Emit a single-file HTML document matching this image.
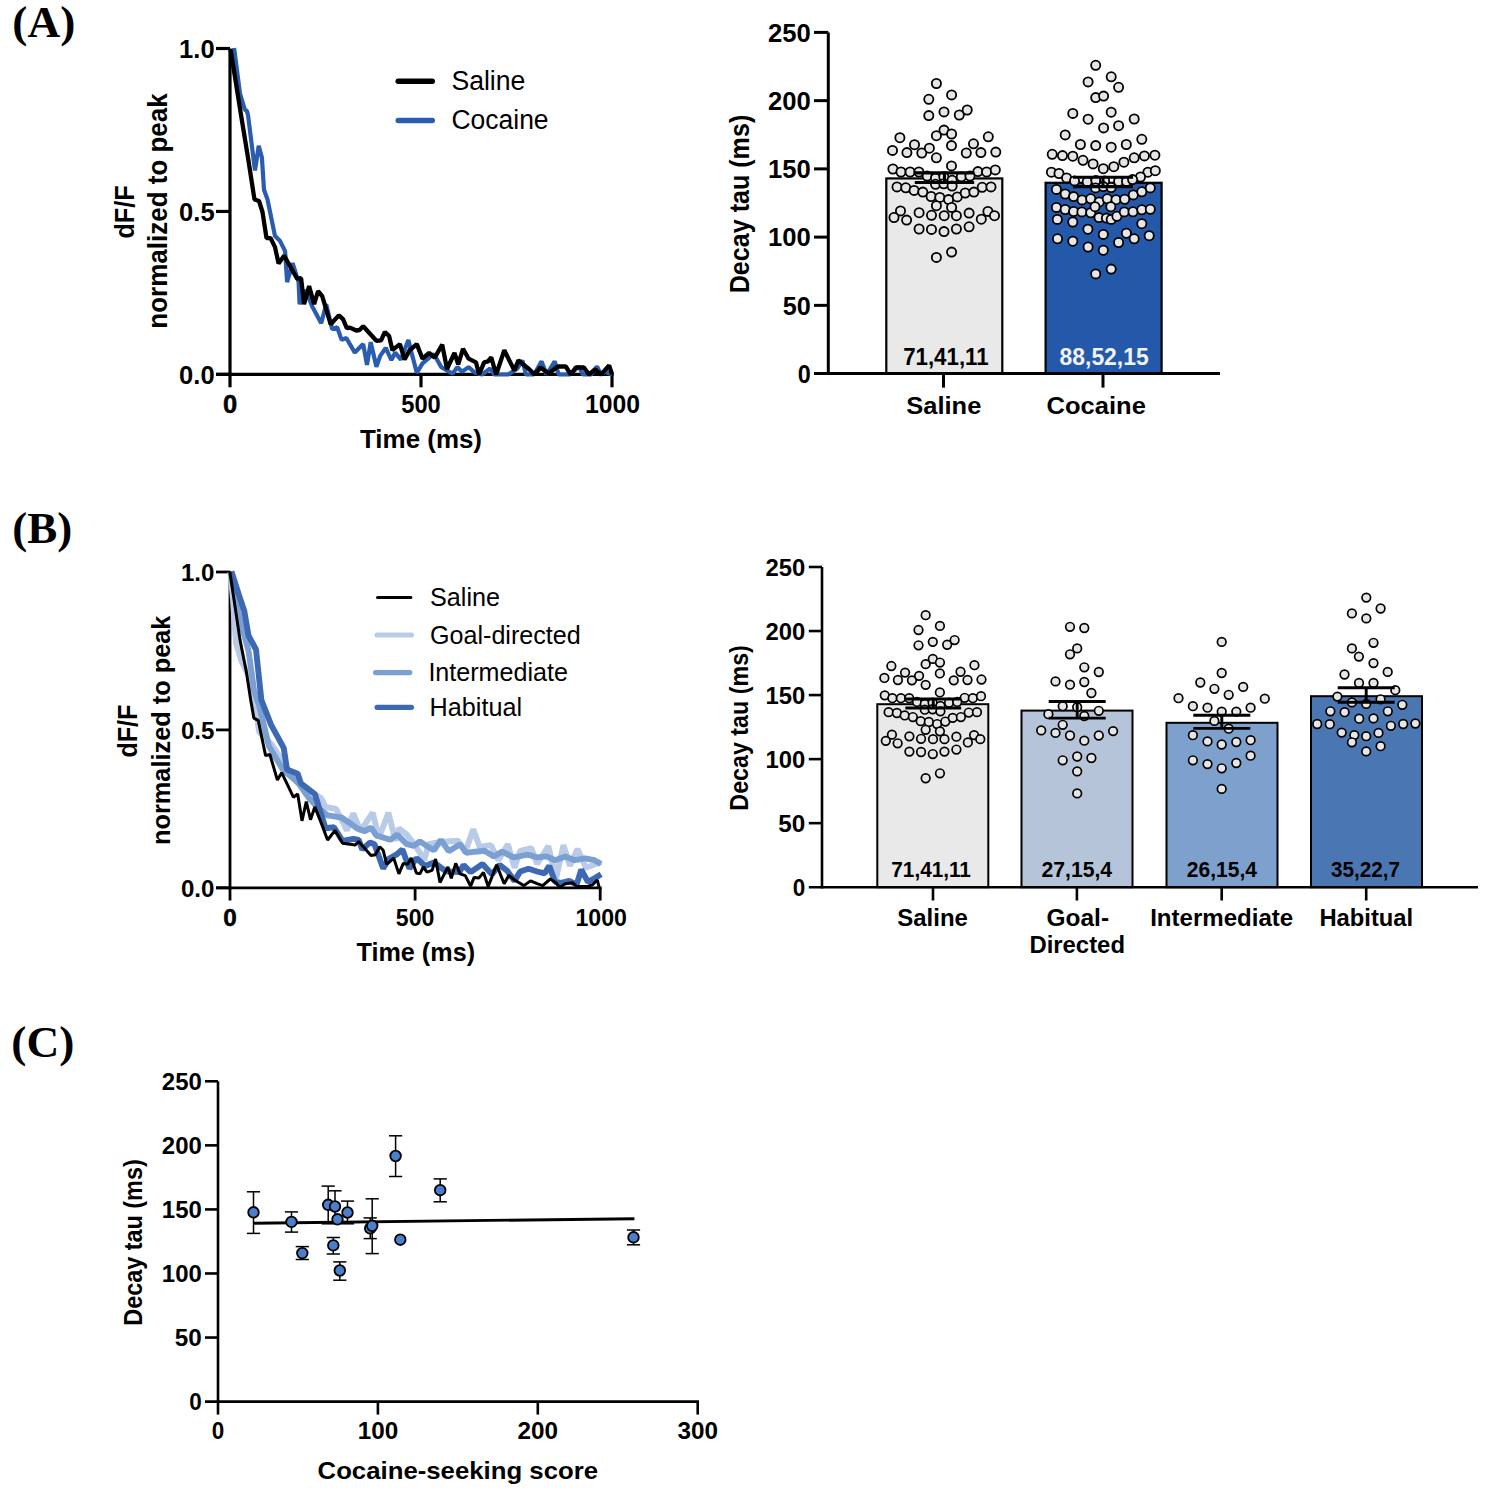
<!DOCTYPE html>
<html><head><meta charset="utf-8"><title>Figure</title>
<style>html,body{margin:0;padding:0;background:#fff;}svg{display:block;}</style>
</head><body>
<svg width="1488" height="1497" viewBox="0 0 1488 1497">
<rect width="1488" height="1497" fill="#fff"/>
<text transform="translate(12.3,37.3)" font-family='"Liberation Serif", serif' font-size="45" font-weight="bold" fill="#000" text-anchor="start" textLength="63" lengthAdjust="spacingAndGlyphs">(A)</text>
<text transform="translate(12.3,542.5)" font-family='"Liberation Serif", serif' font-size="45" font-weight="bold" fill="#000" text-anchor="start" textLength="60" lengthAdjust="spacingAndGlyphs">(B)</text>
<text transform="translate(11.3,1057)" font-family='"Liberation Serif", serif' font-size="45" font-weight="bold" fill="#000" text-anchor="start" textLength="63" lengthAdjust="spacingAndGlyphs">(C)</text>
<line x1="230" y1="48.5" x2="230" y2="376" stroke="#000" stroke-width="3.2" stroke-linecap="butt"/>
<line x1="216" y1="374.4" x2="613.6" y2="374.4" stroke="#000" stroke-width="3.2" stroke-linecap="butt"/>
<line x1="216" y1="48.5" x2="230" y2="48.5" stroke="#000" stroke-width="3.2" stroke-linecap="butt"/>
<line x1="216" y1="211.45" x2="230" y2="211.45" stroke="#000" stroke-width="3.2" stroke-linecap="butt"/>
<line x1="216" y1="374.4" x2="230" y2="374.4" stroke="#000" stroke-width="3.2" stroke-linecap="butt"/>
<line x1="230" y1="374.4" x2="230" y2="387.3" stroke="#000" stroke-width="3.2" stroke-linecap="butt"/>
<line x1="421" y1="374.4" x2="421" y2="387.3" stroke="#000" stroke-width="3.2" stroke-linecap="butt"/>
<line x1="612" y1="374.4" x2="612" y2="387.3" stroke="#000" stroke-width="3.2" stroke-linecap="butt"/>
<text transform="translate(214.6,57.6)" font-family='"Liberation Sans", sans-serif' font-size="25.5" font-weight="bold" fill="#000" text-anchor="end" textLength="35.5" lengthAdjust="spacingAndGlyphs">1.0</text>
<text transform="translate(214.6,220.55)" font-family='"Liberation Sans", sans-serif' font-size="25.5" font-weight="bold" fill="#000" text-anchor="end" textLength="35.5" lengthAdjust="spacingAndGlyphs">0.5</text>
<text transform="translate(214.6,383.5)" font-family='"Liberation Sans", sans-serif' font-size="25.5" font-weight="bold" fill="#000" text-anchor="end" textLength="35.5" lengthAdjust="spacingAndGlyphs">0.0</text>
<text transform="translate(230,413.1)" font-family='"Liberation Sans", sans-serif' font-size="25.5" font-weight="bold" fill="#000" text-anchor="middle" stroke="#000" stroke-width="0.5">0</text>
<text transform="translate(421,413.1)" font-family='"Liberation Sans", sans-serif' font-size="25.5" font-weight="bold" fill="#000" text-anchor="middle" textLength="39.5" lengthAdjust="spacingAndGlyphs">500</text>
<text transform="translate(612.5,413.1)" font-family='"Liberation Sans", sans-serif' font-size="25.5" font-weight="bold" fill="#000" text-anchor="middle" textLength="55" lengthAdjust="spacingAndGlyphs">1000</text>
<text transform="translate(421,447.6)" font-family='"Liberation Sans", sans-serif' font-size="26.5" font-weight="bold" fill="#000" text-anchor="middle" textLength="122" lengthAdjust="spacingAndGlyphs">Time (ms)</text>
<text transform="translate(133.6,212) rotate(-90)" font-family='"Liberation Sans", sans-serif' font-size="27.5" font-weight="bold" fill="#000" text-anchor="middle" textLength="53" lengthAdjust="spacingAndGlyphs">dF/F</text>
<text transform="translate(166.9,211) rotate(-90)" font-family='"Liberation Sans", sans-serif' font-size="26.8" font-weight="bold" fill="#000" text-anchor="middle" textLength="235.4" lengthAdjust="spacingAndGlyphs">normalized to peak</text>
<line x1="398.2" y1="81.2" x2="432.3" y2="81.2" stroke="#000" stroke-width="5.4" stroke-linecap="round"/>
<line x1="398.2" y1="120.5" x2="432.3" y2="120.5" stroke="#2a5db0" stroke-width="5.4" stroke-linecap="round"/>
<text transform="translate(451.4,90.2)" font-family='"Liberation Sans", sans-serif' font-size="27" font-weight="normal" fill="#000" text-anchor="start" textLength="74" lengthAdjust="spacingAndGlyphs">Saline</text>
<text transform="translate(451.4,129.2)" font-family='"Liberation Sans", sans-serif' font-size="27" font-weight="normal" fill="#000" text-anchor="start" textLength="97.2" lengthAdjust="spacingAndGlyphs">Cocaine</text>
<polyline points="234.1,48 240,93.5 244.8,109.5 246.9,111 248,115 255,170.5 258.7,145.9 261.9,157.6 264,189.7 267.5,199.5 275,236.1 280.1,241.1 285.1,251.1 287.1,282.2 292.6,263.1 298.6,282.2 299.6,304.2 306,290 312.1,306.2 321.2,323.3 326.2,304.2 332.2,329.3 337.2,327.3 341.6,339.9 346.3,338 354.8,352.6 363.2,344.1 367,364.8 370.7,342.2 376.4,366.7 380.2,355.9 385.8,347.9 391.4,360.1 395.2,352.6 400.9,359.6 408.4,339.9 412.1,354.9 416.8,372.8 422.5,363.4 428.1,358.7 433.8,354 441.3,367.1 452.6,373.7 457.3,367.1 462,371.8 468.6,367.1 475,372.8 482,374.5 490.2,368.5 494,374.5 508.3,374.5 517.4,368.5 522.4,360.4 526,374.5 534,374.5 541.6,361.4 546.6,374.5 554.7,361.4 558.7,374.5 570,374.5 578.9,366.5 583,374.5 591,374.5 597,366.5 601,374.5 605.1,371.5 612,374.5" fill="none" stroke="#2a5db0" stroke-width="4.2" stroke-linejoin="bevel" stroke-linecap="butt"/>
<polyline points="230.5,49 241,114.9 248,157.6 253,190 254.5,199.5 259,201 262.5,212 266.5,238.1 270.6,238.1 275,247.1 278.6,263.6 284.1,255.6 297.1,278.7 301.1,278.2 304.1,304.2 309.1,286.2 314.1,304.2 318.1,291.2 322.2,296.2 330.7,324.3 338.8,315.4 343,319.2 346.8,328.1 350,327.6 356.2,330.5 359.5,330 363.2,326.2 376.4,340.8 381.1,340.3 384.9,331.9 389.1,336.1 392.4,350.2 399.9,344.1 404.6,359.6 409.3,350.7 416.8,344.1 422.5,358.7 429.1,353 434.7,357.7 442.2,344.6 447,369 454.5,353 458.2,364.3 463,348.8 468.6,358.7 476,362.4 479.1,374.5 484.1,362.4 488.1,361.4 491.2,357.4 496.2,374.5 504.3,350.3 514.4,370.5 518.4,360.4 529.5,369.5 534.5,374.5 540.6,367.5 548.6,373.5 557.7,366.5 565.8,366.5 570.8,374.5 575.8,367.5 583.9,367.5 589,374.5 595,369.5 601.1,374.5 609.1,365.4 612.1,374.5" fill="none" stroke="#000" stroke-width="4.3" stroke-linejoin="bevel" stroke-linecap="butt"/>
<rect x="886.3" y="178.43" width="116" height="195.17" fill="#e9e9e9" stroke="#000" stroke-width="2.2"/>
<rect x="1045.6" y="182.8" width="116" height="190.8" fill="#2459aa" stroke="#000" stroke-width="2.2"/>
<line x1="828.3" y1="32.4" x2="828.3" y2="375.1" stroke="#000" stroke-width="3" stroke-linecap="butt"/>
<line x1="814" y1="373.6" x2="1220" y2="373.6" stroke="#000" stroke-width="3" stroke-linecap="butt"/>
<line x1="814" y1="305.36" x2="828.3" y2="305.36" stroke="#000" stroke-width="3" stroke-linecap="butt"/>
<line x1="814" y1="237.12" x2="828.3" y2="237.12" stroke="#000" stroke-width="3" stroke-linecap="butt"/>
<line x1="814" y1="168.88" x2="828.3" y2="168.88" stroke="#000" stroke-width="3" stroke-linecap="butt"/>
<line x1="814" y1="100.64" x2="828.3" y2="100.64" stroke="#000" stroke-width="3" stroke-linecap="butt"/>
<line x1="814" y1="32.4" x2="828.3" y2="32.4" stroke="#000" stroke-width="3" stroke-linecap="butt"/>
<text transform="translate(810.8,382.8)" font-family='"Liberation Sans", sans-serif' font-size="26" font-weight="bold" fill="#000" text-anchor="end" textLength="13" lengthAdjust="spacingAndGlyphs">0</text>
<text transform="translate(810.8,314.56)" font-family='"Liberation Sans", sans-serif' font-size="26" font-weight="bold" fill="#000" text-anchor="end" textLength="28" lengthAdjust="spacingAndGlyphs">50</text>
<text transform="translate(810.8,246.32)" font-family='"Liberation Sans", sans-serif' font-size="26" font-weight="bold" fill="#000" text-anchor="end" textLength="42.8" lengthAdjust="spacingAndGlyphs">100</text>
<text transform="translate(810.8,178.08)" font-family='"Liberation Sans", sans-serif' font-size="26" font-weight="bold" fill="#000" text-anchor="end" textLength="42.8" lengthAdjust="spacingAndGlyphs">150</text>
<text transform="translate(810.8,109.84)" font-family='"Liberation Sans", sans-serif' font-size="26" font-weight="bold" fill="#000" text-anchor="end" textLength="42.8" lengthAdjust="spacingAndGlyphs">200</text>
<text transform="translate(810.8,41.6)" font-family='"Liberation Sans", sans-serif' font-size="26" font-weight="bold" fill="#000" text-anchor="end" textLength="42.8" lengthAdjust="spacingAndGlyphs">250</text>
<line x1="943.5" y1="373.6" x2="943.5" y2="387.6" stroke="#000" stroke-width="3" stroke-linecap="butt"/>
<line x1="1103" y1="373.6" x2="1103" y2="387.6" stroke="#000" stroke-width="3" stroke-linecap="butt"/>
<text transform="translate(945.9,364.8)" font-family='"Liberation Sans", sans-serif' font-size="24.3" font-weight="bold" fill="#000" text-anchor="middle" textLength="85.5" lengthAdjust="spacingAndGlyphs">71,41,11</text>
<text transform="translate(1104.1,364.8)" font-family='"Liberation Sans", sans-serif' font-size="24.3" font-weight="bold" fill="#f2f2f2" text-anchor="middle" textLength="89" lengthAdjust="spacingAndGlyphs">88,52,15</text>
<text transform="translate(943.8,414)" font-family='"Liberation Sans", sans-serif' font-size="24.8" font-weight="bold" fill="#000" text-anchor="middle" textLength="75" lengthAdjust="spacingAndGlyphs">Saline</text>
<text transform="translate(1096.2,414)" font-family='"Liberation Sans", sans-serif' font-size="24.8" font-weight="bold" fill="#000" text-anchor="middle" textLength="99.3" lengthAdjust="spacingAndGlyphs">Cocaine</text>
<text transform="translate(748.9,204) rotate(-90)" font-family='"Liberation Sans", sans-serif' font-size="27.5" font-weight="bold" fill="#000" text-anchor="middle" textLength="178.5" lengthAdjust="spacingAndGlyphs">Decay tau (ms)</text>
<circle cx="936.4" cy="83.5" r="4.6" fill="#e6e6e6" stroke="#000" stroke-width="1.8"/>
<circle cx="951.6" cy="94.9" r="4.6" fill="#e6e6e6" stroke="#000" stroke-width="1.8"/>
<circle cx="928.8" cy="99.3" r="4.6" fill="#e6e6e6" stroke="#000" stroke-width="1.8"/>
<circle cx="928.8" cy="115.6" r="4.6" fill="#e6e6e6" stroke="#000" stroke-width="1.8"/>
<circle cx="944" cy="111.9" r="4.6" fill="#e6e6e6" stroke="#000" stroke-width="1.8"/>
<circle cx="959.3" cy="115" r="4.6" fill="#e6e6e6" stroke="#000" stroke-width="1.8"/>
<circle cx="967.2" cy="110" r="4.6" fill="#e6e6e6" stroke="#000" stroke-width="1.8"/>
<circle cx="944" cy="130.1" r="4.6" fill="#e6e6e6" stroke="#000" stroke-width="1.8"/>
<circle cx="936.4" cy="135.7" r="4.6" fill="#e6e6e6" stroke="#000" stroke-width="1.8"/>
<circle cx="951.6" cy="134" r="4.6" fill="#e6e6e6" stroke="#000" stroke-width="1.8"/>
<circle cx="899.9" cy="137.7" r="4.6" fill="#e6e6e6" stroke="#000" stroke-width="1.8"/>
<circle cx="988.3" cy="136.8" r="4.6" fill="#e6e6e6" stroke="#000" stroke-width="1.8"/>
<circle cx="914.5" cy="144.7" r="4.6" fill="#e6e6e6" stroke="#000" stroke-width="1.8"/>
<circle cx="973.5" cy="143.8" r="4.6" fill="#e6e6e6" stroke="#000" stroke-width="1.8"/>
<circle cx="951.5" cy="145.6" r="4.6" fill="#e6e6e6" stroke="#000" stroke-width="1.8"/>
<circle cx="892.5" cy="150.4" r="4.6" fill="#e6e6e6" stroke="#000" stroke-width="1.8"/>
<circle cx="906.9" cy="152.6" r="4.6" fill="#e6e6e6" stroke="#000" stroke-width="1.8"/>
<circle cx="921.8" cy="153" r="4.6" fill="#e6e6e6" stroke="#000" stroke-width="1.8"/>
<circle cx="929.4" cy="148.2" r="4.6" fill="#e6e6e6" stroke="#000" stroke-width="1.8"/>
<circle cx="936.4" cy="157.8" r="4.6" fill="#e6e6e6" stroke="#000" stroke-width="1.8"/>
<circle cx="966.3" cy="153" r="4.6" fill="#e6e6e6" stroke="#000" stroke-width="1.8"/>
<circle cx="980.9" cy="152.6" r="4.6" fill="#e6e6e6" stroke="#000" stroke-width="1.8"/>
<circle cx="995.8" cy="152.1" r="4.6" fill="#e6e6e6" stroke="#000" stroke-width="1.8"/>
<circle cx="951.5" cy="165.9" r="4.6" fill="#e6e6e6" stroke="#000" stroke-width="1.8"/>
<circle cx="892.9" cy="169" r="4.6" fill="#e6e6e6" stroke="#000" stroke-width="1.8"/>
<circle cx="901" cy="172" r="4.6" fill="#e6e6e6" stroke="#000" stroke-width="1.8"/>
<circle cx="910.1" cy="172" r="4.6" fill="#e6e6e6" stroke="#000" stroke-width="1.8"/>
<circle cx="918.9" cy="172" r="4.6" fill="#e6e6e6" stroke="#000" stroke-width="1.8"/>
<circle cx="977.9" cy="171.6" r="4.6" fill="#e6e6e6" stroke="#000" stroke-width="1.8"/>
<circle cx="986.6" cy="172" r="4.6" fill="#e6e6e6" stroke="#000" stroke-width="1.8"/>
<circle cx="995.3" cy="169.9" r="4.6" fill="#e6e6e6" stroke="#000" stroke-width="1.8"/>
<circle cx="927.2" cy="176" r="4.6" fill="#e6e6e6" stroke="#000" stroke-width="1.8"/>
<circle cx="935.5" cy="178.2" r="4.6" fill="#e6e6e6" stroke="#000" stroke-width="1.8"/>
<circle cx="943.8" cy="176.8" r="4.6" fill="#e6e6e6" stroke="#000" stroke-width="1.8"/>
<circle cx="961.3" cy="176.8" r="4.6" fill="#e6e6e6" stroke="#000" stroke-width="1.8"/>
<circle cx="970" cy="176" r="4.6" fill="#e6e6e6" stroke="#000" stroke-width="1.8"/>
<circle cx="952.1" cy="180.3" r="4.6" fill="#e6e6e6" stroke="#000" stroke-width="1.8"/>
<circle cx="935.5" cy="184.3" r="4.6" fill="#e6e6e6" stroke="#000" stroke-width="1.8"/>
<circle cx="943.8" cy="183.8" r="4.6" fill="#e6e6e6" stroke="#000" stroke-width="1.8"/>
<circle cx="952.1" cy="186" r="4.6" fill="#e6e6e6" stroke="#000" stroke-width="1.8"/>
<circle cx="897" cy="186.9" r="4.6" fill="#e6e6e6" stroke="#000" stroke-width="1.8"/>
<circle cx="905.8" cy="187.8" r="4.6" fill="#e6e6e6" stroke="#000" stroke-width="1.8"/>
<circle cx="914.1" cy="190.4" r="4.6" fill="#e6e6e6" stroke="#000" stroke-width="1.8"/>
<circle cx="922.8" cy="192.1" r="4.6" fill="#e6e6e6" stroke="#000" stroke-width="1.8"/>
<circle cx="931.1" cy="196.5" r="4.6" fill="#e6e6e6" stroke="#000" stroke-width="1.8"/>
<circle cx="939.8" cy="197.4" r="4.6" fill="#e6e6e6" stroke="#000" stroke-width="1.8"/>
<circle cx="948.6" cy="199.6" r="4.6" fill="#e6e6e6" stroke="#000" stroke-width="1.8"/>
<circle cx="957.3" cy="196.9" r="4.6" fill="#e6e6e6" stroke="#000" stroke-width="1.8"/>
<circle cx="965.2" cy="193" r="4.6" fill="#e6e6e6" stroke="#000" stroke-width="1.8"/>
<circle cx="973.9" cy="192.1" r="4.6" fill="#e6e6e6" stroke="#000" stroke-width="1.8"/>
<circle cx="982.2" cy="187.3" r="4.6" fill="#e6e6e6" stroke="#000" stroke-width="1.8"/>
<circle cx="991" cy="186.9" r="4.6" fill="#e6e6e6" stroke="#000" stroke-width="1.8"/>
<circle cx="936.4" cy="205.7" r="4.6" fill="#e6e6e6" stroke="#000" stroke-width="1.8"/>
<circle cx="951.6" cy="207.4" r="4.6" fill="#e6e6e6" stroke="#000" stroke-width="1.8"/>
<circle cx="900.5" cy="210.9" r="4.6" fill="#e6e6e6" stroke="#000" stroke-width="1.8"/>
<circle cx="894" cy="217.5" r="4.6" fill="#e6e6e6" stroke="#000" stroke-width="1.8"/>
<circle cx="906.6" cy="220.1" r="4.6" fill="#e6e6e6" stroke="#000" stroke-width="1.8"/>
<circle cx="919.1" cy="212.7" r="4.6" fill="#e6e6e6" stroke="#000" stroke-width="1.8"/>
<circle cx="931.5" cy="215.3" r="4.6" fill="#e6e6e6" stroke="#000" stroke-width="1.8"/>
<circle cx="944.2" cy="215.7" r="4.6" fill="#e6e6e6" stroke="#000" stroke-width="1.8"/>
<circle cx="956.4" cy="215.7" r="4.6" fill="#e6e6e6" stroke="#000" stroke-width="1.8"/>
<circle cx="969.1" cy="213.1" r="4.6" fill="#e6e6e6" stroke="#000" stroke-width="1.8"/>
<circle cx="987.9" cy="211.4" r="4.6" fill="#e6e6e6" stroke="#000" stroke-width="1.8"/>
<circle cx="981.3" cy="219.2" r="4.6" fill="#e6e6e6" stroke="#000" stroke-width="1.8"/>
<circle cx="994.5" cy="215.7" r="4.6" fill="#e6e6e6" stroke="#000" stroke-width="1.8"/>
<circle cx="919.1" cy="229" r="4.6" fill="#e6e6e6" stroke="#000" stroke-width="1.8"/>
<circle cx="931.5" cy="229.4" r="4.6" fill="#e6e6e6" stroke="#000" stroke-width="1.8"/>
<circle cx="944" cy="231.6" r="4.6" fill="#e6e6e6" stroke="#000" stroke-width="1.8"/>
<circle cx="956.4" cy="229" r="4.6" fill="#e6e6e6" stroke="#000" stroke-width="1.8"/>
<circle cx="969.1" cy="226.8" r="4.6" fill="#e6e6e6" stroke="#000" stroke-width="1.8"/>
<circle cx="936.4" cy="257.4" r="4.6" fill="#e6e6e6" stroke="#000" stroke-width="1.8"/>
<circle cx="951.6" cy="252.1" r="4.6" fill="#e6e6e6" stroke="#000" stroke-width="1.8"/>
<line x1="944.5" y1="172.9" x2="944.5" y2="182.5" stroke="#000" stroke-width="3.1" stroke-linecap="butt"/>
<line x1="914.8" y1="172.9" x2="974.2" y2="172.9" stroke="#000" stroke-width="3.1" stroke-linecap="butt"/>
<line x1="914.8" y1="182.5" x2="974.2" y2="182.5" stroke="#000" stroke-width="3.1" stroke-linecap="butt"/>
<circle cx="1095.7" cy="65.3" r="4.6" fill="#e6e6e6" stroke="#000" stroke-width="1.8"/>
<circle cx="1111.2" cy="76.8" r="4.6" fill="#e6e6e6" stroke="#000" stroke-width="1.8"/>
<circle cx="1088.1" cy="81.9" r="4.6" fill="#e6e6e6" stroke="#000" stroke-width="1.8"/>
<circle cx="1118.6" cy="87.3" r="4.6" fill="#e6e6e6" stroke="#000" stroke-width="1.8"/>
<circle cx="1095.7" cy="97.6" r="4.6" fill="#e6e6e6" stroke="#000" stroke-width="1.8"/>
<circle cx="1103.6" cy="96.1" r="4.6" fill="#e6e6e6" stroke="#000" stroke-width="1.8"/>
<circle cx="1072.8" cy="113.4" r="4.6" fill="#e6e6e6" stroke="#000" stroke-width="1.8"/>
<circle cx="1111.2" cy="112.2" r="4.6" fill="#e6e6e6" stroke="#000" stroke-width="1.8"/>
<circle cx="1088.1" cy="119.2" r="4.6" fill="#e6e6e6" stroke="#000" stroke-width="1.8"/>
<circle cx="1134.2" cy="119" r="4.6" fill="#e6e6e6" stroke="#000" stroke-width="1.8"/>
<circle cx="1103.6" cy="127.9" r="4.6" fill="#e6e6e6" stroke="#000" stroke-width="1.8"/>
<circle cx="1118.6" cy="125.7" r="4.6" fill="#e6e6e6" stroke="#000" stroke-width="1.8"/>
<circle cx="1065.2" cy="134.9" r="4.6" fill="#e6e6e6" stroke="#000" stroke-width="1.8"/>
<circle cx="1141.8" cy="139.3" r="4.6" fill="#e6e6e6" stroke="#000" stroke-width="1.8"/>
<circle cx="1080.4" cy="144.5" r="4.6" fill="#e6e6e6" stroke="#000" stroke-width="1.8"/>
<circle cx="1095.7" cy="145.6" r="4.6" fill="#e6e6e6" stroke="#000" stroke-width="1.8"/>
<circle cx="1111.2" cy="147.2" r="4.6" fill="#e6e6e6" stroke="#000" stroke-width="1.8"/>
<circle cx="1126.3" cy="144.5" r="4.6" fill="#e6e6e6" stroke="#000" stroke-width="1.8"/>
<circle cx="1052.2" cy="154.3" r="4.6" fill="#e6e6e6" stroke="#000" stroke-width="1.8"/>
<circle cx="1062.5" cy="155.6" r="4.6" fill="#e6e6e6" stroke="#000" stroke-width="1.8"/>
<circle cx="1072.8" cy="156.2" r="4.6" fill="#e6e6e6" stroke="#000" stroke-width="1.8"/>
<circle cx="1083" cy="160.3" r="4.6" fill="#e6e6e6" stroke="#000" stroke-width="1.8"/>
<circle cx="1093.1" cy="163.9" r="4.6" fill="#e6e6e6" stroke="#000" stroke-width="1.8"/>
<circle cx="1103.3" cy="168.7" r="4.6" fill="#e6e6e6" stroke="#000" stroke-width="1.8"/>
<circle cx="1113.8" cy="166.7" r="4.6" fill="#e6e6e6" stroke="#000" stroke-width="1.8"/>
<circle cx="1123.9" cy="162.2" r="4.6" fill="#e6e6e6" stroke="#000" stroke-width="1.8"/>
<circle cx="1134.2" cy="157.8" r="4.6" fill="#e6e6e6" stroke="#000" stroke-width="1.8"/>
<circle cx="1144.4" cy="155.9" r="4.6" fill="#e6e6e6" stroke="#000" stroke-width="1.8"/>
<circle cx="1154.9" cy="155.2" r="4.6" fill="#e6e6e6" stroke="#000" stroke-width="1.8"/>
<circle cx="1051.4" cy="172.2" r="4.6" fill="#e6e6e6" stroke="#000" stroke-width="1.8"/>
<circle cx="1059" cy="173.5" r="4.6" fill="#e6e6e6" stroke="#000" stroke-width="1.8"/>
<circle cx="1066.6" cy="177.9" r="4.6" fill="#e6e6e6" stroke="#000" stroke-width="1.8"/>
<circle cx="1147.9" cy="172.2" r="4.6" fill="#e6e6e6" stroke="#000" stroke-width="1.8"/>
<circle cx="1155.3" cy="170.7" r="4.6" fill="#e6e6e6" stroke="#000" stroke-width="1.8"/>
<circle cx="1140.5" cy="177" r="4.6" fill="#e6e6e6" stroke="#000" stroke-width="1.8"/>
<circle cx="1074.5" cy="180.9" r="4.6" fill="#e6e6e6" stroke="#000" stroke-width="1.8"/>
<circle cx="1087.2" cy="181.8" r="4.6" fill="#e6e6e6" stroke="#000" stroke-width="1.8"/>
<circle cx="1095.9" cy="180.5" r="4.6" fill="#e6e6e6" stroke="#000" stroke-width="1.8"/>
<circle cx="1104.6" cy="180.9" r="4.6" fill="#e6e6e6" stroke="#000" stroke-width="1.8"/>
<circle cx="1118.6" cy="181.4" r="4.6" fill="#e6e6e6" stroke="#000" stroke-width="1.8"/>
<circle cx="1126.5" cy="181.4" r="4.6" fill="#e6e6e6" stroke="#000" stroke-width="1.8"/>
<circle cx="1132.6" cy="179.6" r="4.6" fill="#e6e6e6" stroke="#000" stroke-width="1.8"/>
<circle cx="1095.5" cy="187.9" r="4.6" fill="#e6e6e6" stroke="#000" stroke-width="1.8"/>
<circle cx="1103.3" cy="186.6" r="4.6" fill="#e6e6e6" stroke="#000" stroke-width="1.8"/>
<circle cx="1111.2" cy="187.5" r="4.6" fill="#e6e6e6" stroke="#000" stroke-width="1.8"/>
<circle cx="1056.4" cy="189.4" r="4.6" fill="#e6e6e6" stroke="#000" stroke-width="1.8"/>
<circle cx="1065.2" cy="194" r="4.6" fill="#e6e6e6" stroke="#000" stroke-width="1.8"/>
<circle cx="1073.6" cy="196.6" r="4.6" fill="#e6e6e6" stroke="#000" stroke-width="1.8"/>
<circle cx="1082.1" cy="199.9" r="4.6" fill="#e6e6e6" stroke="#000" stroke-width="1.8"/>
<circle cx="1090.7" cy="198.8" r="4.6" fill="#e6e6e6" stroke="#000" stroke-width="1.8"/>
<circle cx="1099.2" cy="201.9" r="4.6" fill="#e6e6e6" stroke="#000" stroke-width="1.8"/>
<circle cx="1107.3" cy="198.8" r="4.6" fill="#e6e6e6" stroke="#000" stroke-width="1.8"/>
<circle cx="1116" cy="199.7" r="4.6" fill="#e6e6e6" stroke="#000" stroke-width="1.8"/>
<circle cx="1124.7" cy="199.3" r="4.6" fill="#e6e6e6" stroke="#000" stroke-width="1.8"/>
<circle cx="1133.3" cy="194.9" r="4.6" fill="#e6e6e6" stroke="#000" stroke-width="1.8"/>
<circle cx="1141.8" cy="191.8" r="4.6" fill="#e6e6e6" stroke="#000" stroke-width="1.8"/>
<circle cx="1150.3" cy="187.9" r="4.6" fill="#e6e6e6" stroke="#000" stroke-width="1.8"/>
<circle cx="1056.4" cy="207.4" r="4.6" fill="#e6e6e6" stroke="#000" stroke-width="1.8"/>
<circle cx="1065.2" cy="209.5" r="4.6" fill="#e6e6e6" stroke="#000" stroke-width="1.8"/>
<circle cx="1073.6" cy="211.5" r="4.6" fill="#e6e6e6" stroke="#000" stroke-width="1.8"/>
<circle cx="1081.9" cy="211.9" r="4.6" fill="#e6e6e6" stroke="#000" stroke-width="1.8"/>
<circle cx="1090.7" cy="212.8" r="4.6" fill="#e6e6e6" stroke="#000" stroke-width="1.8"/>
<circle cx="1095" cy="206.7" r="4.6" fill="#e6e6e6" stroke="#000" stroke-width="1.8"/>
<circle cx="1110.8" cy="206.7" r="4.6" fill="#e6e6e6" stroke="#000" stroke-width="1.8"/>
<circle cx="1099" cy="217.6" r="4.6" fill="#e6e6e6" stroke="#000" stroke-width="1.8"/>
<circle cx="1106.4" cy="218.1" r="4.6" fill="#e6e6e6" stroke="#000" stroke-width="1.8"/>
<circle cx="1111.2" cy="219.4" r="4.6" fill="#e6e6e6" stroke="#000" stroke-width="1.8"/>
<circle cx="1116.9" cy="216.3" r="4.6" fill="#e6e6e6" stroke="#000" stroke-width="1.8"/>
<circle cx="1124.3" cy="211.9" r="4.6" fill="#e6e6e6" stroke="#000" stroke-width="1.8"/>
<circle cx="1133" cy="211.8" r="4.6" fill="#e6e6e6" stroke="#000" stroke-width="1.8"/>
<circle cx="1141.8" cy="209.8" r="4.6" fill="#e6e6e6" stroke="#000" stroke-width="1.8"/>
<circle cx="1150.3" cy="209.3" r="4.6" fill="#e6e6e6" stroke="#000" stroke-width="1.8"/>
<circle cx="1057.3" cy="219.4" r="4.6" fill="#e6e6e6" stroke="#000" stroke-width="1.8"/>
<circle cx="1072.8" cy="222" r="4.6" fill="#e6e6e6" stroke="#000" stroke-width="1.8"/>
<circle cx="1141.8" cy="223.7" r="4.6" fill="#e6e6e6" stroke="#000" stroke-width="1.8"/>
<circle cx="1087.9" cy="229.2" r="4.6" fill="#e6e6e6" stroke="#000" stroke-width="1.8"/>
<circle cx="1103.3" cy="234.4" r="4.6" fill="#e6e6e6" stroke="#000" stroke-width="1.8"/>
<circle cx="1126.4" cy="233.2" r="4.6" fill="#e6e6e6" stroke="#000" stroke-width="1.8"/>
<circle cx="1149.2" cy="235.7" r="4.6" fill="#e6e6e6" stroke="#000" stroke-width="1.8"/>
<circle cx="1057.5" cy="238.8" r="4.6" fill="#e6e6e6" stroke="#000" stroke-width="1.8"/>
<circle cx="1072.8" cy="241.2" r="4.6" fill="#e6e6e6" stroke="#000" stroke-width="1.8"/>
<circle cx="1134.2" cy="238.8" r="4.6" fill="#e6e6e6" stroke="#000" stroke-width="1.8"/>
<circle cx="1118.6" cy="242.5" r="4.6" fill="#e6e6e6" stroke="#000" stroke-width="1.8"/>
<circle cx="1088.1" cy="247" r="4.6" fill="#e6e6e6" stroke="#000" stroke-width="1.8"/>
<circle cx="1103.3" cy="250.3" r="4.6" fill="#e6e6e6" stroke="#000" stroke-width="1.8"/>
<circle cx="1111.2" cy="269.1" r="4.6" fill="#e6e6e6" stroke="#000" stroke-width="1.8"/>
<circle cx="1095.7" cy="273.9" r="4.6" fill="#e6e6e6" stroke="#000" stroke-width="1.8"/>
<line x1="1103" y1="177.2" x2="1103" y2="186.6" stroke="#000" stroke-width="3.1" stroke-linecap="butt"/>
<line x1="1073" y1="177.2" x2="1133" y2="177.2" stroke="#000" stroke-width="3.1" stroke-linecap="butt"/>
<line x1="1073" y1="186.6" x2="1133" y2="186.6" stroke="#000" stroke-width="3.1" stroke-linecap="butt"/>
<line x1="230" y1="572" x2="230" y2="889.2" stroke="#000" stroke-width="2.8" stroke-linecap="butt"/>
<line x1="216" y1="887.8" x2="601.6" y2="887.8" stroke="#000" stroke-width="2.8" stroke-linecap="butt"/>
<line x1="216" y1="572" x2="230" y2="572" stroke="#000" stroke-width="2.8" stroke-linecap="butt"/>
<line x1="216" y1="729.9" x2="230" y2="729.9" stroke="#000" stroke-width="2.8" stroke-linecap="butt"/>
<line x1="216" y1="887.8" x2="230" y2="887.8" stroke="#000" stroke-width="2.8" stroke-linecap="butt"/>
<line x1="230" y1="887.8" x2="230" y2="900.5" stroke="#000" stroke-width="2.8" stroke-linecap="butt"/>
<line x1="415.1" y1="887.8" x2="415.1" y2="900.5" stroke="#000" stroke-width="2.8" stroke-linecap="butt"/>
<line x1="600.2" y1="887.8" x2="600.2" y2="900.5" stroke="#000" stroke-width="2.8" stroke-linecap="butt"/>
<text transform="translate(214.4,580.7)" font-family='"Liberation Sans", sans-serif' font-size="24.3" font-weight="bold" fill="#000" text-anchor="end" textLength="33.5" lengthAdjust="spacingAndGlyphs">1.0</text>
<text transform="translate(214.4,738.6)" font-family='"Liberation Sans", sans-serif' font-size="24.3" font-weight="bold" fill="#000" text-anchor="end" textLength="33.5" lengthAdjust="spacingAndGlyphs">0.5</text>
<text transform="translate(214.4,896.5)" font-family='"Liberation Sans", sans-serif' font-size="24.3" font-weight="bold" fill="#000" text-anchor="end" textLength="33.5" lengthAdjust="spacingAndGlyphs">0.0</text>
<text transform="translate(230,925.8)" font-family='"Liberation Sans", sans-serif' font-size="24.3" font-weight="bold" fill="#000" text-anchor="middle" stroke="#000" stroke-width="0.5">0</text>
<text transform="translate(415.1,925.8)" font-family='"Liberation Sans", sans-serif' font-size="24.3" font-weight="bold" fill="#000" text-anchor="middle" textLength="38.5" lengthAdjust="spacingAndGlyphs">500</text>
<text transform="translate(601.2,925.8)" font-family='"Liberation Sans", sans-serif' font-size="24.3" font-weight="bold" fill="#000" text-anchor="middle" textLength="51.5" lengthAdjust="spacingAndGlyphs">1000</text>
<text transform="translate(415.8,961.2)" font-family='"Liberation Sans", sans-serif' font-size="25.5" font-weight="bold" fill="#000" text-anchor="middle" textLength="118.5" lengthAdjust="spacingAndGlyphs">Time (ms)</text>
<text transform="translate(136.6,731.1) rotate(-90)" font-family='"Liberation Sans", sans-serif' font-size="27.5" font-weight="bold" fill="#000" text-anchor="middle" textLength="53" lengthAdjust="spacingAndGlyphs">dF/F</text>
<text transform="translate(170.2,730.3) rotate(-90)" font-family='"Liberation Sans", sans-serif' font-size="26" font-weight="bold" fill="#000" text-anchor="middle" textLength="229.4" lengthAdjust="spacingAndGlyphs">normalized to peak</text>
<line x1="377.5" y1="597.6" x2="410.9" y2="597.6" stroke="#000" stroke-width="3" stroke-linecap="round"/>
<line x1="377.1" y1="635" x2="411.4" y2="635" stroke="#b9cbe6" stroke-width="5.2" stroke-linecap="round"/>
<line x1="375.6" y1="672.6" x2="409.8" y2="672.6" stroke="#7a9fd2" stroke-width="5.2" stroke-linecap="round"/>
<line x1="377.1" y1="707.3" x2="411.4" y2="707.3" stroke="#3d69b3" stroke-width="5.2" stroke-linecap="round"/>
<text transform="translate(430,605.6)" font-family='"Liberation Sans", sans-serif' font-size="25.5" font-weight="normal" fill="#000" text-anchor="start" textLength="70" lengthAdjust="spacingAndGlyphs">Saline</text>
<text transform="translate(430,643.5)" font-family='"Liberation Sans", sans-serif' font-size="25.5" font-weight="normal" fill="#000" text-anchor="start" textLength="150.7" lengthAdjust="spacingAndGlyphs">Goal-directed</text>
<text transform="translate(428.4,680.6)" font-family='"Liberation Sans", sans-serif' font-size="25.5" font-weight="normal" fill="#000" text-anchor="start" textLength="139.5" lengthAdjust="spacingAndGlyphs">Intermediate</text>
<text transform="translate(429.6,716)" font-family='"Liberation Sans", sans-serif' font-size="25.5" font-weight="normal" fill="#000" text-anchor="start" textLength="92.5" lengthAdjust="spacingAndGlyphs">Habitual</text>
<polyline points="230.5,572 233,600 236,643 241,660 252,683 259.2,732 272,744.9 295.6,781.2 306.3,788.7 321.2,798.3 325.5,806.9 336.2,809 346.9,830.4 353.3,813.3 360.5,831.1 372.7,812.7 378.8,838 388.4,812.7 395.4,840.7 398.9,828.4 406.8,834.6 415,845 424.3,859.9 428.6,844.2 437.4,842.4 447,841.5 458.3,840.7 465.3,852 473.2,829.3 479.7,847 491,845.2 498.5,860.2 507.9,844.2 514.5,867.7 520.2,850.8 531.4,848 537.1,864 548.4,846.1 555.9,879 563.4,845.2 570,865.9 577.5,848.9 586,867.7 601.1,862.1" fill="none" stroke="#b9cbe6" stroke-width="5.9" stroke-linejoin="bevel" stroke-linecap="butt"/>
<polyline points="230.5,572 241,623.8 248.5,650.6 254,690 259,705 268.9,746 282.7,769.5 297.7,782.3 308.4,797.2 316.9,806.9 327.6,815.4 341.5,817.5 350,823.2 357,828.4 364.9,831.1 371,827.6 376.2,835.4 390.2,839.8 397.2,834.6 406.8,844.2 413.8,845.9 419.9,841.5 426.9,845.9 433.9,850.3 440.9,839.8 448.7,851.2 460.1,844.2 466.2,852.9 475,851.7 484.4,850.8 493.8,856.4 502.3,851.7 513.6,857.4 527.7,854.6 537.1,857.4 546.5,856.4 555,860.2 565.3,856.4 574.7,860.2 585.1,858.3 594.5,860.2 601.1,864" fill="none" stroke="#7a9fd2" stroke-width="5.9" stroke-linejoin="bevel" stroke-linecap="butt"/>
<polyline points="231.4,571.4 238.9,595 244.3,611 248.5,635.6 256,649.5 261.4,700 271,724.6 283.8,748.1 287,769.5 297.7,773.7 300.9,783.4 314.8,794 325.5,828.2 334,827.2 342.6,841 353.3,838.9 358.7,839.8 362.2,849.4 370.1,842.4 374.5,844.2 383.2,868.6 388.4,859 396.3,854.7 402.4,849.4 409.4,868.6 416.4,858.1 425.1,866 433.9,862.5 446.1,871.3 459.2,872.1 463.6,865.1 470.6,872.1 482.5,864 491.9,874.3 499.5,864.9 507,870.6 514.5,880.9 520.2,871.5 528.6,868.7 537.1,871.5 544.6,873.4 549.3,865.9 555,881.8 561.5,882.8 569.1,880.9 576.6,884.7 581.3,869.6 587.9,881.8 593.5,879 601.1,874.3" fill="none" stroke="#3d69b3" stroke-width="5.9" stroke-linejoin="bevel" stroke-linecap="butt"/>
<polyline points="229.8,571.4 240,639.9 246.4,672 250.7,700 253.9,718.2 258.2,720.3 265.6,755.6 269.9,754.5 277.4,780.1 281.7,772.7 293.4,797.2 297.7,794 302,820.8 306.3,801.5 310.5,819.7 314.8,806.9 321.2,822.9 327.6,840 335.1,830.4 342.6,843.2 350,844.2 355.2,845 358.7,841.5 371,855.5 375.3,854.7 379.7,846.8 383.2,850.3 386.7,864.3 393.7,858.1 398.9,873.9 403.3,863.4 407.7,864.3 411.2,858.1 416.4,873 419.9,873.9 423.4,866.9 426.9,872.1 432.1,870.4 435.6,859 440,882.6 447.9,866.9 451.3,878.2 455.7,863.4 460.1,873.9 465.3,875.6 470.6,886.1 474.1,877.4 478.8,878.1 483.5,872.4 488.2,886.5 496.6,864.9 504.2,883.7 508.9,875.3 514.5,880 519.2,882.8 523.9,885.6 530.5,880.9 537.1,883.7 542.7,885.6 550.3,879 555.9,882.8 559.7,887.5 565.3,883.7 572.8,882.8 576.6,886.5 587.9,886.5 592.6,884.7 597.3,880 599.2,887.5" fill="none" stroke="#000" stroke-width="3" stroke-linejoin="bevel" stroke-linecap="butt"/>
<rect x="877.3" y="704.2" width="111" height="183" fill="#e9e9e9" stroke="#000" stroke-width="2"/>
<rect x="1021.5" y="710.6" width="111" height="176.6" fill="#b6c4da" stroke="#000" stroke-width="2"/>
<rect x="1166.5" y="722.8" width="111" height="164.4" fill="#7da0cd" stroke="#000" stroke-width="2"/>
<rect x="1311" y="696.2" width="111" height="191" fill="#4a77b2" stroke="#000" stroke-width="2"/>
<line x1="822" y1="567" x2="822" y2="888.5" stroke="#000" stroke-width="2.6" stroke-linecap="butt"/>
<line x1="808.8" y1="887.2" x2="1478" y2="887.2" stroke="#000" stroke-width="2.6" stroke-linecap="butt"/>
<line x1="808.8" y1="823.16" x2="822" y2="823.16" stroke="#000" stroke-width="2.6" stroke-linecap="butt"/>
<line x1="808.8" y1="759.12" x2="822" y2="759.12" stroke="#000" stroke-width="2.6" stroke-linecap="butt"/>
<line x1="808.8" y1="695.08" x2="822" y2="695.08" stroke="#000" stroke-width="2.6" stroke-linecap="butt"/>
<line x1="808.8" y1="631.04" x2="822" y2="631.04" stroke="#000" stroke-width="2.6" stroke-linecap="butt"/>
<line x1="808.8" y1="567" x2="822" y2="567" stroke="#000" stroke-width="2.6" stroke-linecap="butt"/>
<text transform="translate(805.2,895.8)" font-family='"Liberation Sans", sans-serif' font-size="24.3" font-weight="bold" fill="#000" text-anchor="end" textLength="12.5" lengthAdjust="spacingAndGlyphs">0</text>
<text transform="translate(805.2,831.76)" font-family='"Liberation Sans", sans-serif' font-size="24.3" font-weight="bold" fill="#000" text-anchor="end" textLength="27" lengthAdjust="spacingAndGlyphs">50</text>
<text transform="translate(805.2,767.72)" font-family='"Liberation Sans", sans-serif' font-size="24.3" font-weight="bold" fill="#000" text-anchor="end" textLength="39.8" lengthAdjust="spacingAndGlyphs">100</text>
<text transform="translate(805.2,703.68)" font-family='"Liberation Sans", sans-serif' font-size="24.3" font-weight="bold" fill="#000" text-anchor="end" textLength="39.8" lengthAdjust="spacingAndGlyphs">150</text>
<text transform="translate(805.2,639.64)" font-family='"Liberation Sans", sans-serif' font-size="24.3" font-weight="bold" fill="#000" text-anchor="end" textLength="39.8" lengthAdjust="spacingAndGlyphs">200</text>
<text transform="translate(805.2,575.6)" font-family='"Liberation Sans", sans-serif' font-size="24.3" font-weight="bold" fill="#000" text-anchor="end" textLength="39.8" lengthAdjust="spacingAndGlyphs">250</text>
<line x1="933" y1="887.2" x2="933" y2="900.5" stroke="#000" stroke-width="2.6" stroke-linecap="butt"/>
<line x1="1076.9" y1="887.2" x2="1076.9" y2="900.5" stroke="#000" stroke-width="2.6" stroke-linecap="butt"/>
<line x1="1221.7" y1="887.2" x2="1221.7" y2="900.5" stroke="#000" stroke-width="2.6" stroke-linecap="butt"/>
<line x1="1366.2" y1="887.2" x2="1366.2" y2="900.5" stroke="#000" stroke-width="2.6" stroke-linecap="butt"/>
<text transform="translate(931.1,877.3)" font-family='"Liberation Sans", sans-serif' font-size="22.7" font-weight="bold" fill="#000" text-anchor="middle" textLength="79.6" lengthAdjust="spacingAndGlyphs">71,41,11</text>
<text transform="translate(1076.8,877.3)" font-family='"Liberation Sans", sans-serif' font-size="22.7" font-weight="bold" fill="#000" text-anchor="middle" textLength="70.5" lengthAdjust="spacingAndGlyphs">27,15,4</text>
<text transform="translate(1221.9,877.3)" font-family='"Liberation Sans", sans-serif' font-size="22.7" font-weight="bold" fill="#000" text-anchor="middle" textLength="70.1" lengthAdjust="spacingAndGlyphs">26,15,4</text>
<text transform="translate(1365.6,877.3)" font-family='"Liberation Sans", sans-serif' font-size="22.7" font-weight="bold" fill="#000" text-anchor="middle" textLength="69" lengthAdjust="spacingAndGlyphs">35,22,7</text>
<text transform="translate(932.6,925.7)" font-family='"Liberation Sans", sans-serif' font-size="24.5" font-weight="bold" fill="#000" text-anchor="middle" textLength="70.6" lengthAdjust="spacingAndGlyphs">Saline</text>
<text transform="translate(1077.8,925.7)" font-family='"Liberation Sans", sans-serif' font-size="24.5" font-weight="bold" fill="#000" text-anchor="middle" textLength="62.5" lengthAdjust="spacingAndGlyphs">Goal-</text>
<text transform="translate(1077.2,952.9)" font-family='"Liberation Sans", sans-serif' font-size="24.5" font-weight="bold" fill="#000" text-anchor="middle" textLength="95.6" lengthAdjust="spacingAndGlyphs">Directed</text>
<text transform="translate(1221.7,925.7)" font-family='"Liberation Sans", sans-serif' font-size="24.5" font-weight="bold" fill="#000" text-anchor="middle" textLength="143.1" lengthAdjust="spacingAndGlyphs">Intermediate</text>
<text transform="translate(1366.3,925.7)" font-family='"Liberation Sans", sans-serif' font-size="24.5" font-weight="bold" fill="#000" text-anchor="middle" textLength="93.8" lengthAdjust="spacingAndGlyphs">Habitual</text>
<text transform="translate(748.4,727.9) rotate(-90)" font-family='"Liberation Sans", sans-serif' font-size="25.3" font-weight="bold" fill="#000" text-anchor="middle" textLength="165.5" lengthAdjust="spacingAndGlyphs">Decay tau (ms)</text>
<circle cx="925.66" cy="615.2" r="4.3" fill="#e6e6e6" stroke="#000" stroke-width="1.7"/>
<circle cx="939.94" cy="625.89" r="4.3" fill="#e6e6e6" stroke="#000" stroke-width="1.7"/>
<circle cx="918.51" cy="630.02" r="4.3" fill="#e6e6e6" stroke="#000" stroke-width="1.7"/>
<circle cx="918.51" cy="645.3" r="4.3" fill="#e6e6e6" stroke="#000" stroke-width="1.7"/>
<circle cx="932.8" cy="641.83" r="4.3" fill="#e6e6e6" stroke="#000" stroke-width="1.7"/>
<circle cx="947.18" cy="644.74" r="4.3" fill="#e6e6e6" stroke="#000" stroke-width="1.7"/>
<circle cx="954.61" cy="640.05" r="4.3" fill="#e6e6e6" stroke="#000" stroke-width="1.7"/>
<circle cx="932.8" cy="658.9" r="4.3" fill="#e6e6e6" stroke="#000" stroke-width="1.7"/>
<circle cx="925.66" cy="664.15" r="4.3" fill="#e6e6e6" stroke="#000" stroke-width="1.7"/>
<circle cx="939.94" cy="662.55" r="4.3" fill="#e6e6e6" stroke="#000" stroke-width="1.7"/>
<circle cx="891.35" cy="666.02" r="4.3" fill="#e6e6e6" stroke="#000" stroke-width="1.7"/>
<circle cx="974.44" cy="665.18" r="4.3" fill="#e6e6e6" stroke="#000" stroke-width="1.7"/>
<circle cx="905.07" cy="672.59" r="4.3" fill="#e6e6e6" stroke="#000" stroke-width="1.7"/>
<circle cx="960.53" cy="671.74" r="4.3" fill="#e6e6e6" stroke="#000" stroke-width="1.7"/>
<circle cx="939.85" cy="673.43" r="4.3" fill="#e6e6e6" stroke="#000" stroke-width="1.7"/>
<circle cx="884.39" cy="677.93" r="4.3" fill="#e6e6e6" stroke="#000" stroke-width="1.7"/>
<circle cx="897.93" cy="679.99" r="4.3" fill="#e6e6e6" stroke="#000" stroke-width="1.7"/>
<circle cx="911.93" cy="680.37" r="4.3" fill="#e6e6e6" stroke="#000" stroke-width="1.7"/>
<circle cx="919.08" cy="675.87" r="4.3" fill="#e6e6e6" stroke="#000" stroke-width="1.7"/>
<circle cx="925.66" cy="684.87" r="4.3" fill="#e6e6e6" stroke="#000" stroke-width="1.7"/>
<circle cx="953.76" cy="680.37" r="4.3" fill="#e6e6e6" stroke="#000" stroke-width="1.7"/>
<circle cx="967.49" cy="679.99" r="4.3" fill="#e6e6e6" stroke="#000" stroke-width="1.7"/>
<circle cx="981.49" cy="679.52" r="4.3" fill="#e6e6e6" stroke="#000" stroke-width="1.7"/>
<circle cx="939.85" cy="692.46" r="4.3" fill="#e6e6e6" stroke="#000" stroke-width="1.7"/>
<circle cx="884.77" cy="695.37" r="4.3" fill="#e6e6e6" stroke="#000" stroke-width="1.7"/>
<circle cx="892.38" cy="698.18" r="4.3" fill="#e6e6e6" stroke="#000" stroke-width="1.7"/>
<circle cx="900.93" cy="698.18" r="4.3" fill="#e6e6e6" stroke="#000" stroke-width="1.7"/>
<circle cx="909.21" cy="698.18" r="4.3" fill="#e6e6e6" stroke="#000" stroke-width="1.7"/>
<circle cx="964.67" cy="697.81" r="4.3" fill="#e6e6e6" stroke="#000" stroke-width="1.7"/>
<circle cx="972.84" cy="698.18" r="4.3" fill="#e6e6e6" stroke="#000" stroke-width="1.7"/>
<circle cx="981.02" cy="696.21" r="4.3" fill="#e6e6e6" stroke="#000" stroke-width="1.7"/>
<circle cx="917.01" cy="701.93" r="4.3" fill="#e6e6e6" stroke="#000" stroke-width="1.7"/>
<circle cx="924.81" cy="703.99" r="4.3" fill="#e6e6e6" stroke="#000" stroke-width="1.7"/>
<circle cx="932.61" cy="702.68" r="4.3" fill="#e6e6e6" stroke="#000" stroke-width="1.7"/>
<circle cx="949.06" cy="702.68" r="4.3" fill="#e6e6e6" stroke="#000" stroke-width="1.7"/>
<circle cx="957.24" cy="701.93" r="4.3" fill="#e6e6e6" stroke="#000" stroke-width="1.7"/>
<circle cx="940.41" cy="705.96" r="4.3" fill="#e6e6e6" stroke="#000" stroke-width="1.7"/>
<circle cx="924.81" cy="709.71" r="4.3" fill="#e6e6e6" stroke="#000" stroke-width="1.7"/>
<circle cx="932.61" cy="709.25" r="4.3" fill="#e6e6e6" stroke="#000" stroke-width="1.7"/>
<circle cx="940.41" cy="711.31" r="4.3" fill="#e6e6e6" stroke="#000" stroke-width="1.7"/>
<circle cx="888.62" cy="712.15" r="4.3" fill="#e6e6e6" stroke="#000" stroke-width="1.7"/>
<circle cx="896.89" cy="713" r="4.3" fill="#e6e6e6" stroke="#000" stroke-width="1.7"/>
<circle cx="904.69" cy="715.43" r="4.3" fill="#e6e6e6" stroke="#000" stroke-width="1.7"/>
<circle cx="912.87" cy="717.03" r="4.3" fill="#e6e6e6" stroke="#000" stroke-width="1.7"/>
<circle cx="920.67" cy="721.15" r="4.3" fill="#e6e6e6" stroke="#000" stroke-width="1.7"/>
<circle cx="928.85" cy="722" r="4.3" fill="#e6e6e6" stroke="#000" stroke-width="1.7"/>
<circle cx="937.12" cy="724.06" r="4.3" fill="#e6e6e6" stroke="#000" stroke-width="1.7"/>
<circle cx="945.3" cy="721.53" r="4.3" fill="#e6e6e6" stroke="#000" stroke-width="1.7"/>
<circle cx="952.73" cy="717.87" r="4.3" fill="#e6e6e6" stroke="#000" stroke-width="1.7"/>
<circle cx="960.91" cy="717.03" r="4.3" fill="#e6e6e6" stroke="#000" stroke-width="1.7"/>
<circle cx="968.71" cy="712.53" r="4.3" fill="#e6e6e6" stroke="#000" stroke-width="1.7"/>
<circle cx="976.98" cy="712.15" r="4.3" fill="#e6e6e6" stroke="#000" stroke-width="1.7"/>
<circle cx="925.66" cy="729.78" r="4.3" fill="#e6e6e6" stroke="#000" stroke-width="1.7"/>
<circle cx="939.94" cy="731.37" r="4.3" fill="#e6e6e6" stroke="#000" stroke-width="1.7"/>
<circle cx="891.91" cy="734.65" r="4.3" fill="#e6e6e6" stroke="#000" stroke-width="1.7"/>
<circle cx="885.8" cy="740.84" r="4.3" fill="#e6e6e6" stroke="#000" stroke-width="1.7"/>
<circle cx="897.64" cy="743.28" r="4.3" fill="#e6e6e6" stroke="#000" stroke-width="1.7"/>
<circle cx="909.39" cy="736.34" r="4.3" fill="#e6e6e6" stroke="#000" stroke-width="1.7"/>
<circle cx="921.05" cy="738.78" r="4.3" fill="#e6e6e6" stroke="#000" stroke-width="1.7"/>
<circle cx="932.99" cy="739.15" r="4.3" fill="#e6e6e6" stroke="#000" stroke-width="1.7"/>
<circle cx="944.46" cy="739.15" r="4.3" fill="#e6e6e6" stroke="#000" stroke-width="1.7"/>
<circle cx="956.39" cy="736.72" r="4.3" fill="#e6e6e6" stroke="#000" stroke-width="1.7"/>
<circle cx="974.07" cy="735.12" r="4.3" fill="#e6e6e6" stroke="#000" stroke-width="1.7"/>
<circle cx="967.86" cy="742.44" r="4.3" fill="#e6e6e6" stroke="#000" stroke-width="1.7"/>
<circle cx="980.27" cy="739.15" r="4.3" fill="#e6e6e6" stroke="#000" stroke-width="1.7"/>
<circle cx="909.39" cy="751.62" r="4.3" fill="#e6e6e6" stroke="#000" stroke-width="1.7"/>
<circle cx="921.05" cy="752" r="4.3" fill="#e6e6e6" stroke="#000" stroke-width="1.7"/>
<circle cx="932.8" cy="754.06" r="4.3" fill="#e6e6e6" stroke="#000" stroke-width="1.7"/>
<circle cx="944.46" cy="751.62" r="4.3" fill="#e6e6e6" stroke="#000" stroke-width="1.7"/>
<circle cx="956.39" cy="749.56" r="4.3" fill="#e6e6e6" stroke="#000" stroke-width="1.7"/>
<circle cx="925.66" cy="778.25" r="4.3" fill="#e6e6e6" stroke="#000" stroke-width="1.7"/>
<circle cx="939.94" cy="773.28" r="4.3" fill="#e6e6e6" stroke="#000" stroke-width="1.7"/>
<line x1="933.27" y1="699.03" x2="933.27" y2="708.03" stroke="#000" stroke-width="2.9" stroke-linecap="butt"/>
<line x1="905.35" y1="699.03" x2="961.19" y2="699.03" stroke="#000" stroke-width="2.9" stroke-linecap="butt"/>
<line x1="905.35" y1="708.03" x2="961.19" y2="708.03" stroke="#000" stroke-width="2.9" stroke-linecap="butt"/>
<circle cx="1070" cy="626.8" r="4.3" fill="#e6e6e6" stroke="#000" stroke-width="1.7"/>
<circle cx="1084.3" cy="628" r="4.3" fill="#e6e6e6" stroke="#000" stroke-width="1.7"/>
<circle cx="1077.2" cy="648.4" r="4.3" fill="#e6e6e6" stroke="#000" stroke-width="1.7"/>
<circle cx="1070" cy="654.3" r="4.3" fill="#e6e6e6" stroke="#000" stroke-width="1.7"/>
<circle cx="1084.3" cy="667.3" r="4.3" fill="#e6e6e6" stroke="#000" stroke-width="1.7"/>
<circle cx="1098.8" cy="672" r="4.3" fill="#e6e6e6" stroke="#000" stroke-width="1.7"/>
<circle cx="1055.5" cy="681.4" r="4.3" fill="#e6e6e6" stroke="#000" stroke-width="1.7"/>
<circle cx="1070" cy="684.7" r="4.3" fill="#e6e6e6" stroke="#000" stroke-width="1.7"/>
<circle cx="1084.3" cy="682" r="4.3" fill="#e6e6e6" stroke="#000" stroke-width="1.7"/>
<circle cx="1091.4" cy="693" r="4.3" fill="#e6e6e6" stroke="#000" stroke-width="1.7"/>
<circle cx="1062.7" cy="706.2" r="4.3" fill="#e6e6e6" stroke="#000" stroke-width="1.7"/>
<circle cx="1077.2" cy="707.2" r="4.3" fill="#e6e6e6" stroke="#000" stroke-width="1.7"/>
<circle cx="1098.8" cy="710.8" r="4.3" fill="#e6e6e6" stroke="#000" stroke-width="1.7"/>
<circle cx="1048.4" cy="714.2" r="4.3" fill="#e6e6e6" stroke="#000" stroke-width="1.7"/>
<circle cx="1084.3" cy="716" r="4.3" fill="#e6e6e6" stroke="#000" stroke-width="1.7"/>
<circle cx="1062.7" cy="724.8" r="4.3" fill="#e6e6e6" stroke="#000" stroke-width="1.7"/>
<circle cx="1041.2" cy="730.4" r="4.3" fill="#e6e6e6" stroke="#000" stroke-width="1.7"/>
<circle cx="1055.5" cy="732.9" r="4.3" fill="#e6e6e6" stroke="#000" stroke-width="1.7"/>
<circle cx="1070" cy="735.5" r="4.3" fill="#e6e6e6" stroke="#000" stroke-width="1.7"/>
<circle cx="1084.3" cy="740.7" r="4.3" fill="#e6e6e6" stroke="#000" stroke-width="1.7"/>
<circle cx="1098.8" cy="735.5" r="4.3" fill="#e6e6e6" stroke="#000" stroke-width="1.7"/>
<circle cx="1113.1" cy="731.1" r="4.3" fill="#e6e6e6" stroke="#000" stroke-width="1.7"/>
<circle cx="1062.7" cy="760.3" r="4.3" fill="#e6e6e6" stroke="#000" stroke-width="1.7"/>
<circle cx="1077.2" cy="756.5" r="4.3" fill="#e6e6e6" stroke="#000" stroke-width="1.7"/>
<circle cx="1091.4" cy="758" r="4.3" fill="#e6e6e6" stroke="#000" stroke-width="1.7"/>
<circle cx="1077.2" cy="771.4" r="4.3" fill="#e6e6e6" stroke="#000" stroke-width="1.7"/>
<circle cx="1077.2" cy="793.4" r="4.3" fill="#e6e6e6" stroke="#000" stroke-width="1.7"/>
<line x1="1077.2" y1="701.5" x2="1077.2" y2="718.1" stroke="#000" stroke-width="2.9" stroke-linecap="butt"/>
<line x1="1048.7" y1="701.5" x2="1105.7" y2="701.5" stroke="#000" stroke-width="2.9" stroke-linecap="butt"/>
<line x1="1048.7" y1="718.1" x2="1105.7" y2="718.1" stroke="#000" stroke-width="2.9" stroke-linecap="butt"/>
<circle cx="1221.7" cy="641.9" r="4.3" fill="#e6e6e6" stroke="#000" stroke-width="1.7"/>
<circle cx="1221.7" cy="673" r="4.3" fill="#e6e6e6" stroke="#000" stroke-width="1.7"/>
<circle cx="1200.3" cy="682.5" r="4.3" fill="#e6e6e6" stroke="#000" stroke-width="1.7"/>
<circle cx="1214.4" cy="688.8" r="4.3" fill="#e6e6e6" stroke="#000" stroke-width="1.7"/>
<circle cx="1243.2" cy="686.9" r="4.3" fill="#e6e6e6" stroke="#000" stroke-width="1.7"/>
<circle cx="1228.7" cy="694.8" r="4.3" fill="#e6e6e6" stroke="#000" stroke-width="1.7"/>
<circle cx="1178.5" cy="698.2" r="4.3" fill="#e6e6e6" stroke="#000" stroke-width="1.7"/>
<circle cx="1264.8" cy="698.7" r="4.3" fill="#e6e6e6" stroke="#000" stroke-width="1.7"/>
<circle cx="1192.9" cy="706.2" r="4.3" fill="#e6e6e6" stroke="#000" stroke-width="1.7"/>
<circle cx="1207.5" cy="707.7" r="4.3" fill="#e6e6e6" stroke="#000" stroke-width="1.7"/>
<circle cx="1221.7" cy="711.6" r="4.3" fill="#e6e6e6" stroke="#000" stroke-width="1.7"/>
<circle cx="1236.3" cy="711.6" r="4.3" fill="#e6e6e6" stroke="#000" stroke-width="1.7"/>
<circle cx="1250.6" cy="707.7" r="4.3" fill="#e6e6e6" stroke="#000" stroke-width="1.7"/>
<circle cx="1214.4" cy="720.9" r="4.3" fill="#e6e6e6" stroke="#000" stroke-width="1.7"/>
<circle cx="1228.7" cy="728.7" r="4.3" fill="#e6e6e6" stroke="#000" stroke-width="1.7"/>
<circle cx="1192.9" cy="735.2" r="4.3" fill="#e6e6e6" stroke="#000" stroke-width="1.7"/>
<circle cx="1207.5" cy="741.4" r="4.3" fill="#e6e6e6" stroke="#000" stroke-width="1.7"/>
<circle cx="1221.7" cy="744.5" r="4.3" fill="#e6e6e6" stroke="#000" stroke-width="1.7"/>
<circle cx="1236.3" cy="742" r="4.3" fill="#e6e6e6" stroke="#000" stroke-width="1.7"/>
<circle cx="1250.6" cy="740.2" r="4.3" fill="#e6e6e6" stroke="#000" stroke-width="1.7"/>
<circle cx="1192.9" cy="760.3" r="4.3" fill="#e6e6e6" stroke="#000" stroke-width="1.7"/>
<circle cx="1207.5" cy="764.1" r="4.3" fill="#e6e6e6" stroke="#000" stroke-width="1.7"/>
<circle cx="1221.7" cy="768.3" r="4.3" fill="#e6e6e6" stroke="#000" stroke-width="1.7"/>
<circle cx="1236.3" cy="763" r="4.3" fill="#e6e6e6" stroke="#000" stroke-width="1.7"/>
<circle cx="1250.6" cy="755.7" r="4.3" fill="#e6e6e6" stroke="#000" stroke-width="1.7"/>
<circle cx="1221.7" cy="788.9" r="4.3" fill="#e6e6e6" stroke="#000" stroke-width="1.7"/>
<line x1="1221.8" y1="715.2" x2="1221.8" y2="728.4" stroke="#000" stroke-width="2.9" stroke-linecap="butt"/>
<line x1="1193.3" y1="715.2" x2="1250.3" y2="715.2" stroke="#000" stroke-width="2.9" stroke-linecap="butt"/>
<line x1="1193.3" y1="728.4" x2="1250.3" y2="728.4" stroke="#000" stroke-width="2.9" stroke-linecap="butt"/>
<circle cx="1366.3" cy="597.6" r="4.3" fill="#e6e6e6" stroke="#000" stroke-width="1.7"/>
<circle cx="1380.6" cy="608.5" r="4.3" fill="#e6e6e6" stroke="#000" stroke-width="1.7"/>
<circle cx="1351.9" cy="613.4" r="4.3" fill="#e6e6e6" stroke="#000" stroke-width="1.7"/>
<circle cx="1366.3" cy="618.4" r="4.3" fill="#e6e6e6" stroke="#000" stroke-width="1.7"/>
<circle cx="1373.5" cy="642.8" r="4.3" fill="#e6e6e6" stroke="#000" stroke-width="1.7"/>
<circle cx="1351.9" cy="648.4" r="4.3" fill="#e6e6e6" stroke="#000" stroke-width="1.7"/>
<circle cx="1358.9" cy="656.6" r="4.3" fill="#e6e6e6" stroke="#000" stroke-width="1.7"/>
<circle cx="1373.5" cy="663.1" r="4.3" fill="#e6e6e6" stroke="#000" stroke-width="1.7"/>
<circle cx="1344.5" cy="674.5" r="4.3" fill="#e6e6e6" stroke="#000" stroke-width="1.7"/>
<circle cx="1387.7" cy="671.9" r="4.3" fill="#e6e6e6" stroke="#000" stroke-width="1.7"/>
<circle cx="1359" cy="683" r="4.3" fill="#e6e6e6" stroke="#000" stroke-width="1.7"/>
<circle cx="1373.5" cy="683" r="4.3" fill="#e6e6e6" stroke="#000" stroke-width="1.7"/>
<circle cx="1395.3" cy="690.2" r="4.3" fill="#e6e6e6" stroke="#000" stroke-width="1.7"/>
<circle cx="1337.4" cy="696.6" r="4.3" fill="#e6e6e6" stroke="#000" stroke-width="1.7"/>
<circle cx="1351.9" cy="702.4" r="4.3" fill="#e6e6e6" stroke="#000" stroke-width="1.7"/>
<circle cx="1366.2" cy="703.9" r="4.3" fill="#e6e6e6" stroke="#000" stroke-width="1.7"/>
<circle cx="1380.6" cy="699.3" r="4.3" fill="#e6e6e6" stroke="#000" stroke-width="1.7"/>
<circle cx="1402.3" cy="704.8" r="4.3" fill="#e6e6e6" stroke="#000" stroke-width="1.7"/>
<circle cx="1330.4" cy="711.3" r="4.3" fill="#e6e6e6" stroke="#000" stroke-width="1.7"/>
<circle cx="1344.6" cy="712.2" r="4.3" fill="#e6e6e6" stroke="#000" stroke-width="1.7"/>
<circle cx="1387.8" cy="711.3" r="4.3" fill="#e6e6e6" stroke="#000" stroke-width="1.7"/>
<circle cx="1359.2" cy="718.7" r="4.3" fill="#e6e6e6" stroke="#000" stroke-width="1.7"/>
<circle cx="1373.5" cy="718.4" r="4.3" fill="#e6e6e6" stroke="#000" stroke-width="1.7"/>
<circle cx="1317.2" cy="724" r="4.3" fill="#e6e6e6" stroke="#000" stroke-width="1.7"/>
<circle cx="1329.8" cy="724.2" r="4.3" fill="#e6e6e6" stroke="#000" stroke-width="1.7"/>
<circle cx="1390.9" cy="725.8" r="4.3" fill="#e6e6e6" stroke="#000" stroke-width="1.7"/>
<circle cx="1403.2" cy="724" r="4.3" fill="#e6e6e6" stroke="#000" stroke-width="1.7"/>
<circle cx="1415.4" cy="723.5" r="4.3" fill="#e6e6e6" stroke="#000" stroke-width="1.7"/>
<circle cx="1341.7" cy="732.6" r="4.3" fill="#e6e6e6" stroke="#000" stroke-width="1.7"/>
<circle cx="1354.3" cy="735.1" r="4.3" fill="#e6e6e6" stroke="#000" stroke-width="1.7"/>
<circle cx="1366.2" cy="736.2" r="4.3" fill="#e6e6e6" stroke="#000" stroke-width="1.7"/>
<circle cx="1378.5" cy="732.9" r="4.3" fill="#e6e6e6" stroke="#000" stroke-width="1.7"/>
<circle cx="1351.9" cy="742.3" r="4.3" fill="#e6e6e6" stroke="#000" stroke-width="1.7"/>
<circle cx="1380.6" cy="746.2" r="4.3" fill="#e6e6e6" stroke="#000" stroke-width="1.7"/>
<circle cx="1366.2" cy="751.4" r="4.3" fill="#e6e6e6" stroke="#000" stroke-width="1.7"/>
<line x1="1366.2" y1="687.8" x2="1366.2" y2="702.2" stroke="#000" stroke-width="2.9" stroke-linecap="butt"/>
<line x1="1337.7" y1="687.8" x2="1394.7" y2="687.8" stroke="#000" stroke-width="2.9" stroke-linecap="butt"/>
<line x1="1337.7" y1="702.2" x2="1394.7" y2="702.2" stroke="#000" stroke-width="2.9" stroke-linecap="butt"/>
<line x1="218" y1="1081.3" x2="218" y2="1402.9" stroke="#000" stroke-width="2.6" stroke-linecap="butt"/>
<line x1="205" y1="1401.6" x2="699" y2="1401.6" stroke="#000" stroke-width="2.6" stroke-linecap="butt"/>
<line x1="205" y1="1337.54" x2="218" y2="1337.54" stroke="#000" stroke-width="2.6" stroke-linecap="butt"/>
<line x1="205" y1="1273.48" x2="218" y2="1273.48" stroke="#000" stroke-width="2.6" stroke-linecap="butt"/>
<line x1="205" y1="1209.42" x2="218" y2="1209.42" stroke="#000" stroke-width="2.6" stroke-linecap="butt"/>
<line x1="205" y1="1145.36" x2="218" y2="1145.36" stroke="#000" stroke-width="2.6" stroke-linecap="butt"/>
<line x1="205" y1="1081.3" x2="218" y2="1081.3" stroke="#000" stroke-width="2.6" stroke-linecap="butt"/>
<text transform="translate(201.8,1410.2)" font-family='"Liberation Sans", sans-serif' font-size="24.3" font-weight="bold" fill="#000" text-anchor="end" textLength="12.5" lengthAdjust="spacingAndGlyphs">0</text>
<text transform="translate(201.8,1346.14)" font-family='"Liberation Sans", sans-serif' font-size="24.3" font-weight="bold" fill="#000" text-anchor="end" textLength="27" lengthAdjust="spacingAndGlyphs">50</text>
<text transform="translate(201.8,1282.08)" font-family='"Liberation Sans", sans-serif' font-size="24.3" font-weight="bold" fill="#000" text-anchor="end" textLength="40" lengthAdjust="spacingAndGlyphs">100</text>
<text transform="translate(201.8,1218.02)" font-family='"Liberation Sans", sans-serif' font-size="24.3" font-weight="bold" fill="#000" text-anchor="end" textLength="40" lengthAdjust="spacingAndGlyphs">150</text>
<text transform="translate(201.8,1153.96)" font-family='"Liberation Sans", sans-serif' font-size="24.3" font-weight="bold" fill="#000" text-anchor="end" textLength="40" lengthAdjust="spacingAndGlyphs">200</text>
<text transform="translate(201.8,1089.9)" font-family='"Liberation Sans", sans-serif' font-size="24.3" font-weight="bold" fill="#000" text-anchor="end" textLength="40" lengthAdjust="spacingAndGlyphs">250</text>
<line x1="218" y1="1401.6" x2="218" y2="1414.6" stroke="#000" stroke-width="2.6" stroke-linecap="butt"/>
<text transform="translate(218,1439.4)" font-family='"Liberation Sans", sans-serif' font-size="24.3" font-weight="bold" fill="#000" text-anchor="middle" textLength="12.5" lengthAdjust="spacingAndGlyphs">0</text>
<line x1="377.9" y1="1401.6" x2="377.9" y2="1414.6" stroke="#000" stroke-width="2.6" stroke-linecap="butt"/>
<text transform="translate(377.9,1439.4)" font-family='"Liberation Sans", sans-serif' font-size="24.3" font-weight="bold" fill="#000" text-anchor="middle" textLength="40.5" lengthAdjust="spacingAndGlyphs">100</text>
<line x1="537.8" y1="1401.6" x2="537.8" y2="1414.6" stroke="#000" stroke-width="2.6" stroke-linecap="butt"/>
<text transform="translate(537.8,1439.4)" font-family='"Liberation Sans", sans-serif' font-size="24.3" font-weight="bold" fill="#000" text-anchor="middle" textLength="40.5" lengthAdjust="spacingAndGlyphs">200</text>
<line x1="697.7" y1="1401.6" x2="697.7" y2="1414.6" stroke="#000" stroke-width="2.6" stroke-linecap="butt"/>
<text transform="translate(697.7,1439.4)" font-family='"Liberation Sans", sans-serif' font-size="24.3" font-weight="bold" fill="#000" text-anchor="middle" textLength="40.5" lengthAdjust="spacingAndGlyphs">300</text>
<text transform="translate(457.8,1479.2)" font-family='"Liberation Sans", sans-serif' font-size="24.5" font-weight="bold" fill="#000" text-anchor="middle" textLength="280.5" lengthAdjust="spacingAndGlyphs">Cocaine-seeking score</text>
<text transform="translate(142,1242.5) rotate(-90)" font-family='"Liberation Sans", sans-serif' font-size="25.3" font-weight="bold" fill="#000" text-anchor="middle" textLength="166.5" lengthAdjust="spacingAndGlyphs">Decay tau (ms)</text>
<line x1="253" y1="1223.2" x2="634.4" y2="1218.7" stroke="#000" stroke-width="2.9" stroke-linecap="butt"/>
<line x1="253.5" y1="1191.8" x2="253.5" y2="1233.4" stroke="#000" stroke-width="1.5" stroke-linecap="butt"/>
<line x1="246.9" y1="1191.8" x2="260.1" y2="1191.8" stroke="#000" stroke-width="1.5" stroke-linecap="butt"/>
<line x1="246.9" y1="1233.4" x2="260.1" y2="1233.4" stroke="#000" stroke-width="1.5" stroke-linecap="butt"/>
<circle cx="253.5" cy="1212.3" r="5.3" fill="#4a7fd0" stroke="#000" stroke-width="1.8"/>
<line x1="291.5" y1="1211.9" x2="291.5" y2="1232.1" stroke="#000" stroke-width="1.5" stroke-linecap="butt"/>
<line x1="284.9" y1="1211.9" x2="298.1" y2="1211.9" stroke="#000" stroke-width="1.5" stroke-linecap="butt"/>
<line x1="284.9" y1="1232.1" x2="298.1" y2="1232.1" stroke="#000" stroke-width="1.5" stroke-linecap="butt"/>
<circle cx="291.5" cy="1221.9" r="5.3" fill="#4a7fd0" stroke="#000" stroke-width="1.8"/>
<line x1="302.3" y1="1246.6" x2="302.3" y2="1259.5" stroke="#000" stroke-width="1.5" stroke-linecap="butt"/>
<line x1="295.7" y1="1246.6" x2="308.9" y2="1246.6" stroke="#000" stroke-width="1.5" stroke-linecap="butt"/>
<line x1="295.7" y1="1259.5" x2="308.9" y2="1259.5" stroke="#000" stroke-width="1.5" stroke-linecap="butt"/>
<circle cx="302.3" cy="1253.1" r="5.3" fill="#4a7fd0" stroke="#000" stroke-width="1.8"/>
<line x1="328.2" y1="1186.1" x2="328.2" y2="1223.8" stroke="#000" stroke-width="1.5" stroke-linecap="butt"/>
<line x1="321.6" y1="1186.1" x2="334.8" y2="1186.1" stroke="#000" stroke-width="1.5" stroke-linecap="butt"/>
<line x1="321.6" y1="1223.8" x2="334.8" y2="1223.8" stroke="#000" stroke-width="1.5" stroke-linecap="butt"/>
<circle cx="328.2" cy="1204.8" r="5.3" fill="#4a7fd0" stroke="#000" stroke-width="1.8"/>
<line x1="335" y1="1190.8" x2="335" y2="1222.2" stroke="#000" stroke-width="1.5" stroke-linecap="butt"/>
<line x1="328.4" y1="1190.8" x2="341.6" y2="1190.8" stroke="#000" stroke-width="1.5" stroke-linecap="butt"/>
<line x1="328.4" y1="1222.2" x2="341.6" y2="1222.2" stroke="#000" stroke-width="1.5" stroke-linecap="butt"/>
<circle cx="335" cy="1206.5" r="5.3" fill="#4a7fd0" stroke="#000" stroke-width="1.8"/>
<line x1="347.5" y1="1201.1" x2="347.5" y2="1223.8" stroke="#000" stroke-width="1.5" stroke-linecap="butt"/>
<line x1="340.9" y1="1201.1" x2="354.1" y2="1201.1" stroke="#000" stroke-width="1.5" stroke-linecap="butt"/>
<line x1="340.9" y1="1223.8" x2="354.1" y2="1223.8" stroke="#000" stroke-width="1.5" stroke-linecap="butt"/>
<circle cx="347.5" cy="1212.5" r="5.3" fill="#4a7fd0" stroke="#000" stroke-width="1.8"/>
<circle cx="337.5" cy="1219.3" r="5.3" fill="#4a7fd0" stroke="#000" stroke-width="1.8"/>
<line x1="370.2" y1="1217.9" x2="370.2" y2="1238.6" stroke="#000" stroke-width="1.5" stroke-linecap="butt"/>
<line x1="363.6" y1="1217.9" x2="376.8" y2="1217.9" stroke="#000" stroke-width="1.5" stroke-linecap="butt"/>
<line x1="363.6" y1="1238.6" x2="376.8" y2="1238.6" stroke="#000" stroke-width="1.5" stroke-linecap="butt"/>
<circle cx="370.2" cy="1228.4" r="5.3" fill="#4a7fd0" stroke="#000" stroke-width="1.8"/>
<line x1="372.2" y1="1198.8" x2="372.2" y2="1253.6" stroke="#000" stroke-width="1.5" stroke-linecap="butt"/>
<line x1="365.6" y1="1198.8" x2="378.8" y2="1198.8" stroke="#000" stroke-width="1.5" stroke-linecap="butt"/>
<line x1="365.6" y1="1253.6" x2="378.8" y2="1253.6" stroke="#000" stroke-width="1.5" stroke-linecap="butt"/>
<circle cx="372.2" cy="1225.8" r="5.3" fill="#4a7fd0" stroke="#000" stroke-width="1.8"/>
<line x1="333.3" y1="1237.5" x2="333.3" y2="1254" stroke="#000" stroke-width="1.5" stroke-linecap="butt"/>
<line x1="326.7" y1="1237.5" x2="339.9" y2="1237.5" stroke="#000" stroke-width="1.5" stroke-linecap="butt"/>
<line x1="326.7" y1="1254" x2="339.9" y2="1254" stroke="#000" stroke-width="1.5" stroke-linecap="butt"/>
<circle cx="333.3" cy="1245.4" r="5.3" fill="#4a7fd0" stroke="#000" stroke-width="1.8"/>
<line x1="339.8" y1="1261.9" x2="339.8" y2="1280.2" stroke="#000" stroke-width="1.5" stroke-linecap="butt"/>
<line x1="333.2" y1="1261.9" x2="346.4" y2="1261.9" stroke="#000" stroke-width="1.5" stroke-linecap="butt"/>
<line x1="333.2" y1="1280.2" x2="346.4" y2="1280.2" stroke="#000" stroke-width="1.5" stroke-linecap="butt"/>
<circle cx="339.8" cy="1270.5" r="5.3" fill="#4a7fd0" stroke="#000" stroke-width="1.8"/>
<line x1="395.6" y1="1135.8" x2="395.6" y2="1176.5" stroke="#000" stroke-width="1.5" stroke-linecap="butt"/>
<line x1="389" y1="1135.8" x2="402.2" y2="1135.8" stroke="#000" stroke-width="1.5" stroke-linecap="butt"/>
<line x1="389" y1="1176.5" x2="402.2" y2="1176.5" stroke="#000" stroke-width="1.5" stroke-linecap="butt"/>
<circle cx="395.6" cy="1156" r="5.3" fill="#4a7fd0" stroke="#000" stroke-width="1.8"/>
<circle cx="400.3" cy="1239.7" r="5.3" fill="#4a7fd0" stroke="#000" stroke-width="1.8"/>
<line x1="440.2" y1="1178.9" x2="440.2" y2="1201.8" stroke="#000" stroke-width="1.5" stroke-linecap="butt"/>
<line x1="433.6" y1="1178.9" x2="446.8" y2="1178.9" stroke="#000" stroke-width="1.5" stroke-linecap="butt"/>
<line x1="433.6" y1="1201.8" x2="446.8" y2="1201.8" stroke="#000" stroke-width="1.5" stroke-linecap="butt"/>
<circle cx="440.2" cy="1190.2" r="5.3" fill="#4a7fd0" stroke="#000" stroke-width="1.8"/>
<line x1="633.5" y1="1230" x2="633.5" y2="1244.8" stroke="#000" stroke-width="1.5" stroke-linecap="butt"/>
<line x1="626.9" y1="1230" x2="640.1" y2="1230" stroke="#000" stroke-width="1.5" stroke-linecap="butt"/>
<line x1="626.9" y1="1244.8" x2="640.1" y2="1244.8" stroke="#000" stroke-width="1.5" stroke-linecap="butt"/>
<circle cx="633.5" cy="1237.3" r="5.3" fill="#4a7fd0" stroke="#000" stroke-width="1.8"/>
</svg>
</body></html>
